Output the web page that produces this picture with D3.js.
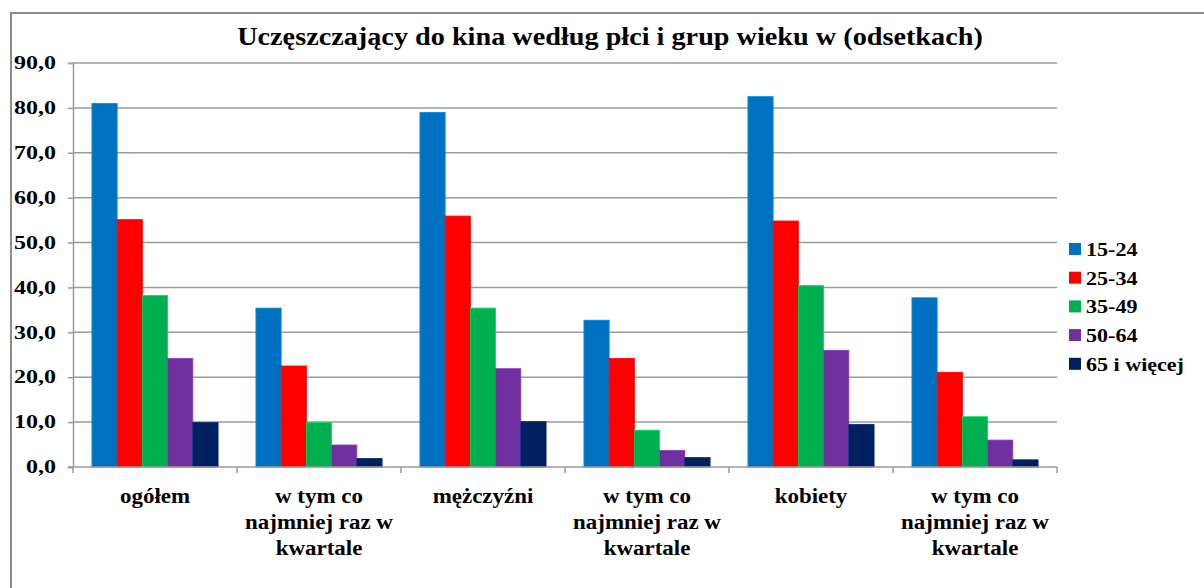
<!DOCTYPE html>
<html>
<head>
<meta charset="utf-8">
<script src="https://cdn.jsdelivr.net/npm/d3@7"></script>
<style>
  html, body { margin: 0; padding: 0; background: #fff; }
  svg { display: block; }
  svg text { font-family: "Liberation Serif", "DejaVu Serif", serif; font-weight: bold; fill: #000; }
</style>
</head>
<body>
<svg id="chart" width="1204" height="588"></svg>
<script>
const title = "Uczęszczający do kina według płci i grup wieku w (odsetkach)";
const categories = [
  ["ogółem"],
  ["w tym co", "najmniej raz w", "kwartale"],
  ["mężczyźni"],
  ["w tym co", "najmniej raz w", "kwartale"],
  ["kobiety"],
  ["w tym co", "najmniej raz w", "kwartale"]
];
const seriesNames = ["15-24", "25-34", "35-49", "50-64", "65 i więcej"];
const seriesColors = ["#0070C0", "#FF0000", "#00B050", "#7030A0", "#002060"];
const s15_24 = [81.0, 35.4, 79.0, 32.7, 82.5, 37.7];
const s25_34 = [55.1, 22.5, 55.9, 24.2, 54.8, 21.1];
const s35_49 = [38.2, 9.9, 35.4, 8.2, 40.4, 11.2];
const s50_64 = [24.2, 4.9, 21.9, 3.7, 26.0, 6.0];
const s65 = [9.9, 1.9, 10.1, 2.1, 9.5, 1.6];
const yTicks = [0, 10, 20, 30, 40, 50, 60, 70, 80, 90];

const series = [s15_24, s25_34, s35_49, s50_64, s65];

(function () {
const svg = d3.select("#chart");
const pL = 73, pR = 1057, pT = 63, pB = 467;
const FONT = "Liberation Serif, DejaVu Serif, serif";

// measure horizontal stretch so text widths match the reference
function measure(str, size) {
  const t = svg.append("text").attr("font-size", size).attr("font-family", FONT)
    .attr("font-weight", "bold").text(str);
  const w = t.node().getComputedTextLength();
  t.remove();
  return w;
}
const yFont = 18, xFont = 20, legFont = 19, titleFont = 25;
const sxY = 42 / measure("90,0", yFont);
const sxX = 148 / measure("najmniej raz w", xFont);
const sxL = 98 / measure("65 i więcej", legFont);
const sxT = 746 / measure(title, titleFont);

// outer border (left and top only visible)
svg.append("path")
  .attr("d", `M11,588 L11,13 L1204,13`)
  .attr("fill", "none").attr("stroke", "#8c8c8c").attr("stroke-width", 2);

const x0 = d3.scaleBand().domain(d3.range(categories.length)).range([pL, pR]).paddingInner(0).paddingOuter(0);
const groupPad = 1.5 / 6.5 / 2;
const x1 = d3.scaleBand().domain(d3.range(seriesNames.length))
  .range([x0.bandwidth() * groupPad, x0.bandwidth() * (1 - groupPad)]);
const y = d3.scaleLinear().domain([0, 90]).range([pB, pT]);

// gridlines
svg.append("g").selectAll("line").data(yTicks.filter(d => d > 0)).join("line")
  .attr("x1", pL).attr("x2", pR)
  .attr("y1", d => y(d)).attr("y2", d => y(d))
  .attr("stroke", "#9a9a9a").attr("stroke-width", 1.5);

// y axis
const yAxis = d3.axisLeft(y).tickValues(yTicks).tickSize(5).tickPadding(0)
  .tickFormat(d => d3.format(".1f")(d).replace(".", ","));
const gy = svg.append("g").attr("transform", `translate(${pL},0)`).call(yAxis);
gy.select(".domain").attr("stroke", "#9a9a9a").attr("stroke-width", 1.5);
gy.selectAll(".tick line").attr("stroke", "#9a9a9a").attr("stroke-width", 1.5);
gy.selectAll(".tick text")
  .attr("font-size", yFont).attr("font-family", FONT).attr("font-weight", "bold").attr("fill", "#000")
  .attr("x", -17 / sxY)
  .attr("transform", `scale(${sxY},1)`);

// bars
const gBars = svg.append("g");
series.forEach((vals, si) => {
  const c = d3.color(seriesColors[si]);
  gBars.append("g").selectAll("rect").data(vals).join("rect")
    .attr("x", (d, i) => x0(i) + x1(si))
    .attr("y", d => y(d))
    .attr("width", x1.bandwidth())
    .attr("height", d => y(0) - y(d))
    .attr("fill", seriesColors[si])
    .attr("stroke", c.brighter(0.6).formatHex())
    .attr("stroke-width", 0.8);
});

// x axis line and ticks at category boundaries
svg.append("line").attr("x1", pL - 5).attr("x2", pR).attr("y1", pB).attr("y2", pB)
  .attr("stroke", "#9a9a9a").attr("stroke-width", 1.5);
const boundaries = d3.range(categories.length + 1).map(i => pL + i * x0.bandwidth());
svg.append("g").selectAll("line").data(boundaries).join("line")
  .attr("x1", d => d).attr("x2", d => d).attr("y1", pB).attr("y2", pB + 6)
  .attr("stroke", "#9a9a9a").attr("stroke-width", 1.5);

// x labels
const gx = svg.append("g");
categories.forEach((lines, i) => {
  const cx = x0(i) + x0.bandwidth() / 2;
  lines.forEach((ln, j) => {
    gx.append("text")
      .attr("transform", `translate(${cx},${503 + j * 26}) scale(${sxX},1)`)
      .attr("text-anchor", "middle")
      .attr("font-size", xFont).attr("font-family", FONT).attr("font-weight", "bold")
      .text(ln);
  });
});

// title
svg.append("text")
  .attr("transform", `translate(610,45) scale(${sxT},1)`)
  .attr("text-anchor", "middle")
  .attr("font-size", titleFont).attr("font-family", FONT).attr("font-weight", "bold")
  .text(title);

// legend
const leg = svg.append("g");
seriesNames.forEach((n, i) => {
  const cy = 249 + i * 28.7;
  leg.append("rect").attr("x", 1069).attr("y", cy - 6).attr("width", 12).attr("height", 12)
    .attr("fill", seriesColors[i]);
  leg.append("text")
    .attr("transform", `translate(1086,${cy + 7}) scale(${sxL},1)`)
    .attr("font-size", legFont).attr("font-family", FONT).attr("font-weight", "bold")
    .text(n);
});
})();
</script>
</body>
</html>
